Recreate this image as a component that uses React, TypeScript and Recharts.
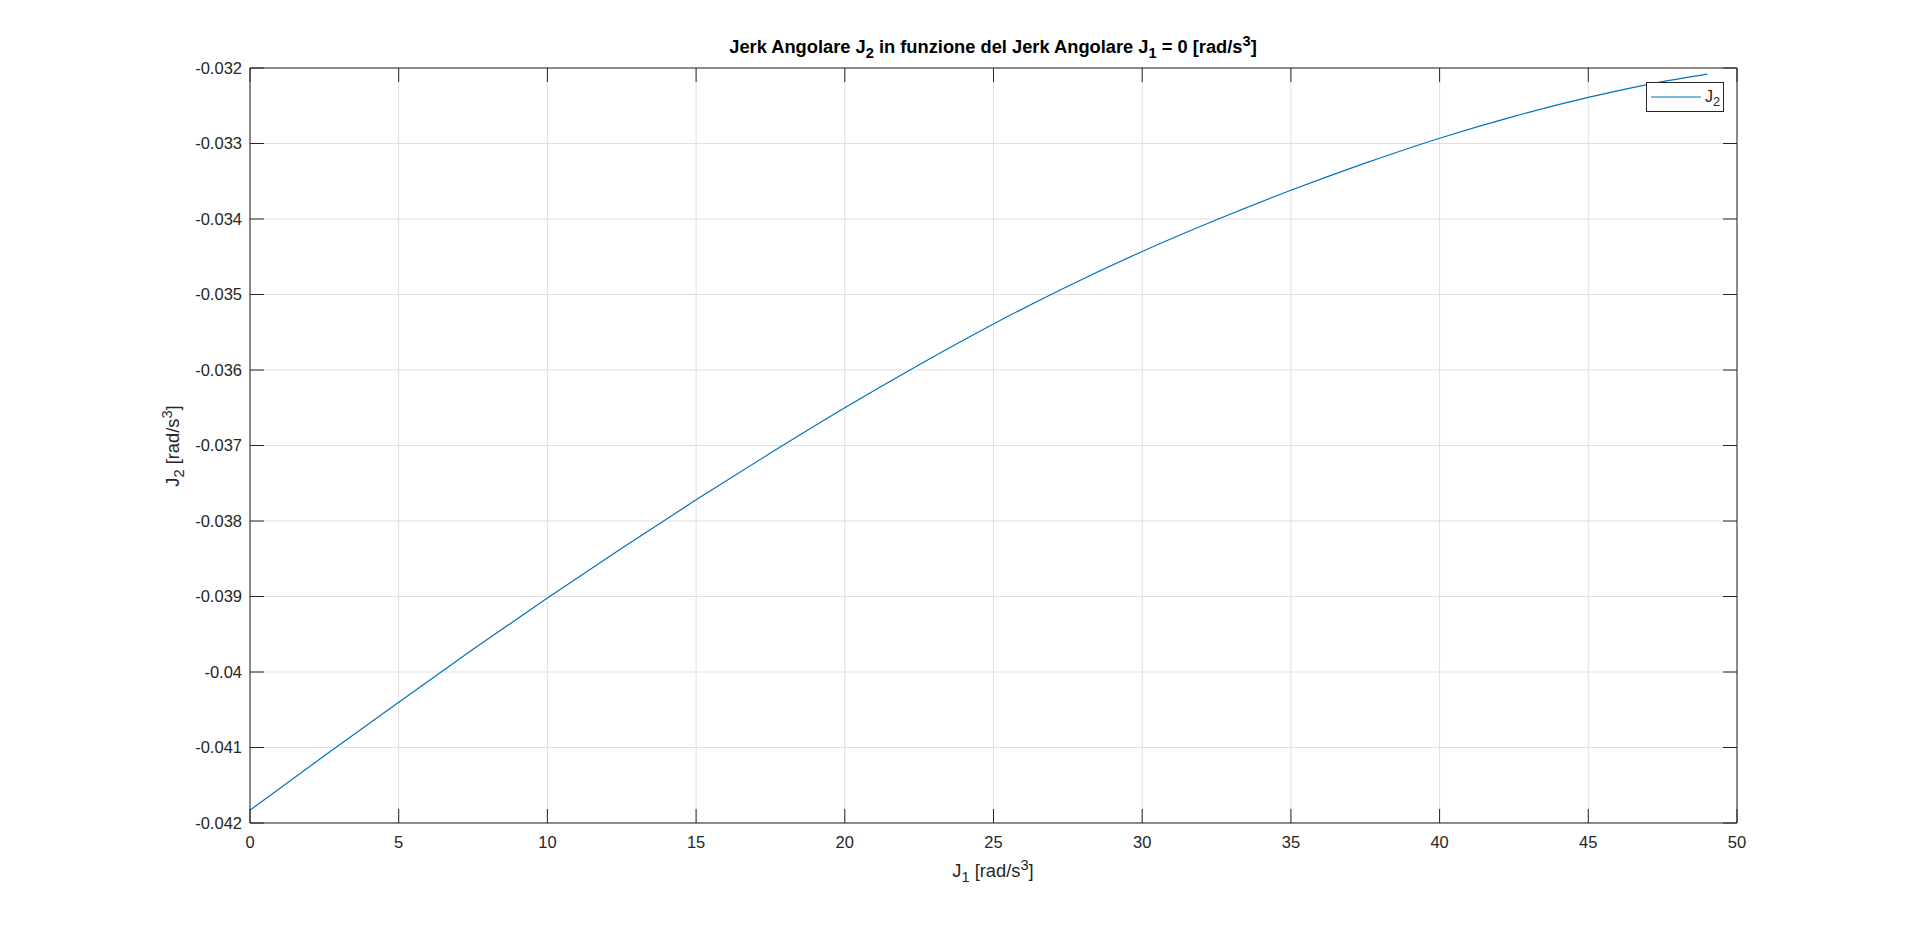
import React from 'react';
import { LineChart, Line, XAxis, YAxis, CartesianGrid, Legend } from 'recharts';

// valori
const J1_VALUES = [0, 2.5, 5, 7.5, 10, 12.5, 15, 17.5, 20, 22.5, 25, 27.5, 30, 32.5, 35, 37.5, 40, 42.5, 45, 47.5, 49];
const J2_VALUES = [
  -0.04183, -0.04111, -0.0404, -0.0397, -0.03902, -0.03836, -0.03772, -0.0371, -0.0365, -0.03593, -0.03539,
  -0.03489, -0.03443, -0.03401, -0.03362, -0.03326, -0.03293, -0.03264, -0.03239, -0.03218, -0.03208,
];
const X_TICKS = [0, 5, 10, 15, 20, 25, 30, 35, 40, 45, 50];
const Y_TICKS = [-0.042, -0.041, -0.04, -0.039, -0.038, -0.037, -0.036, -0.035, -0.034, -0.033, -0.032];

const data = J1_VALUES.map((j1, i) => ({ j1, j2: J2_VALUES[i] }));

const FONT = '"Liberation Sans", Arial, Helvetica, sans-serif';
const AXIS_COLOR = '#262626';
const GRID_COLOR = '#dfdfdf';
const LINE_COLOR = '#0072BD';
const TICK_LEN = 14;
const X_GAP = 13;
const Y_GAP = 8;

const fmtY = (v: number) => String(parseFloat(v.toFixed(3)));
const textProps = { fill: AXIS_COLOR, fontSize: 16.5, fontFamily: FONT };

// tacche rivolte verso l'interno, come in MATLAB
const BottomTick = ({ x, y, payload }: any) => (
  <g>
    <line x1={x} x2={x} y1={y - X_GAP} y2={y - X_GAP - TICK_LEN} stroke={AXIS_COLOR} />
    <text x={x} y={y} dy="0.71em" textAnchor="middle" {...textProps}>
      {payload.value}
    </text>
  </g>
);

const LeftTick = ({ x, y, payload }: any) => (
  <g>
    <line x1={x + Y_GAP} x2={x + Y_GAP + TICK_LEN} y1={y} y2={y} stroke={AXIS_COLOR} />
    <text x={x} y={y} dy="0.355em" textAnchor="end" {...textProps}>
      {fmtY(payload.value)}
    </text>
  </g>
);

const TopTick = ({ x, y }: any) => <line x1={x} x2={x} y1={y} y2={y + TICK_LEN} stroke={AXIS_COLOR} />;
const RightTick = ({ x, y }: any) => <line x1={x} x2={x - TICK_LEN} y1={y} y2={y} stroke={AXIS_COLOR} />;

const LegendBox = ({ payload }: any) => (
  <div
    style={{
      border: `1px solid ${AXIS_COLOR}`,
      background: '#fff',
      width: 76,
      height: 28,
      display: 'flex',
      alignItems: 'center',
      fontFamily: FONT,
      color: AXIS_COLOR,
    }}
  >
    {(payload || []).map((entry: any) => (
      <div key={entry.value} style={{ display: 'flex', alignItems: 'center' }}>
        <svg width={50} height={10} style={{ marginLeft: 4 }}>
          <line x1={0} y1={5} x2={50} y2={5} stroke={entry.color} strokeWidth={1.2} />
        </svg>
        <span style={{ marginLeft: 4, fontSize: 16, lineHeight: '16px' }}>
          {String(entry.value).charAt(0)}
          <sub style={{ fontSize: '0.8em', lineHeight: 0 }}>{String(entry.value).slice(1)}</sub>
        </span>
      </div>
    ))}
  </div>
);

const sub = (t: string) => <sub style={{ fontSize: '0.8em', lineHeight: 0 }}>{t}</sub>;
const sup = (t: string) => <sup style={{ fontSize: '0.8em', lineHeight: 0 }}>{t}</sup>;

export default function App() {
  return (
    <div style={{ position: 'absolute', left: 0, top: 0, width: 1920, height: 926, background: '#fff' }}>
      <div
        style={{
          position: 'absolute',
          left: 593,
          width: 800,
          top: 38,
          textAlign: 'center',
          fontFamily: FONT,
          fontWeight: 'bold',
          fontSize: 18.3,
          lineHeight: '18px',
          color: '#000',
        }}
      >
        Jerk Angolare J{sub('2')} in funzione del Jerk Angolare J{sub('1')} = 0 [rad/s{sup('3')}]
      </div>

      <LineChart width={1920} height={926} data={data} margin={{ top: 38, right: 153, bottom: 43, left: 170 }}>
        <CartesianGrid stroke={GRID_COLOR} strokeWidth={1} />
        <XAxis
          dataKey="j1"
          type="number"
          domain={[0, 50]}
          ticks={X_TICKS}
          height={60}
          tickSize={0}
          tickMargin={X_GAP}
          tick={BottomTick}
          tickLine={false}
          axisLine={{ stroke: AXIS_COLOR }}
          interval={0}
        />
        <XAxis
          xAxisId="top"
          dataKey="j1"
          orientation="top"
          type="number"
          domain={[0, 50]}
          ticks={X_TICKS}
          height={30}
          tickSize={0}
          tickMargin={0}
          tick={TopTick}
          tickLine={false}
          axisLine={{ stroke: AXIS_COLOR }}
          interval={0}
        />
        <YAxis
          type="number"
          domain={[-0.042, -0.032]}
          ticks={Y_TICKS}
          width={80}
          tickSize={0}
          tickMargin={Y_GAP}
          tick={LeftTick}
          tickLine={false}
          axisLine={{ stroke: AXIS_COLOR }}
          interval={0}
        />
        <YAxis
          yAxisId="right"
          dataKey="j2"
          orientation="right"
          type="number"
          domain={[-0.042, -0.032]}
          ticks={Y_TICKS}
          width={30}
          tickSize={0}
          tickMargin={0}
          tick={RightTick}
          tickLine={false}
          axisLine={{ stroke: AXIS_COLOR }}
          interval={0}
        />
        <Legend
          layout="horizontal"
          align="center"
          verticalAlign="middle"
          content={<LegendBox />}
          wrapperStyle={{ left: 1646, top: 82, width: 'auto', height: 'auto' }}
        />
        <Line
          type="monotone"
          dataKey="j2"
          name="J2"
          stroke={LINE_COLOR}
          strokeWidth={1.2}
          dot={false}
          activeDot={false}
          isAnimationActive={false}
        />
      </LineChart>

      <div
        style={{
          position: 'absolute',
          left: 793,
          width: 400,
          top: 862,
          textAlign: 'center',
          fontFamily: FONT,
          fontSize: 18.3,
          lineHeight: '18px',
          color: AXIS_COLOR,
        }}
      >
        J{sub('1')} [rad/s{sup('3')}]
      </div>
      <div
        style={{
          position: 'absolute',
          left: 73,
          width: 200,
          top: 434.5,
          height: 22,
          lineHeight: '22px',
          textAlign: 'center',
          fontFamily: FONT,
          fontSize: 18.3,
          color: AXIS_COLOR,
          transform: 'rotate(-90deg)',
        }}
      >
        J{sub('2')} [rad/s{sup('3')}]
      </div>
    </div>
  );
}
